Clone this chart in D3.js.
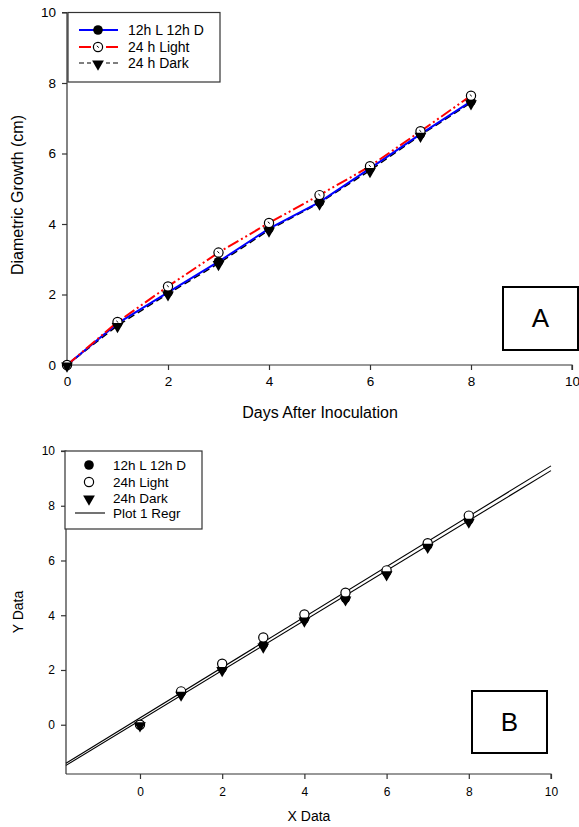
<!DOCTYPE html>
<html><head><meta charset="utf-8">
<script src="https://cdn.jsdelivr.net/npm/d3@7/dist/d3.min.js"></script>
<style>body{margin:0;background:#fff}svg{display:block}text{font-family:"Liberation Sans",Arial,sans-serif;fill:#000}</style>
</head><body><svg id="c" width="579" height="827"></svg>
<script>
const days = [0,1,2,3,4,5,6,7,8];
const s12L12D = [0,1.18,2.06,2.93,3.87,4.62,5.58,6.55,7.48];
const s24Light = [0,1.22,2.23,3.19,4.03,4.82,5.64,6.63,7.64];
const s24Dark = [0,1.12,2.02,2.88,3.83,4.60,5.52,6.52,7.44];
const xTicks = [0,2,4,6,8,10];
const yTicks = [0,2,4,6,8,10];
const names = ["12h L 12h D","24 h Light","24 h Dark"];
const namesB = ["12h L 12h D","24h Light","24h Dark","Plot 1 Regr"];

const svg = d3.select("#c");
const tri = d3.symbol().type(d3.symbolTriangle).size(60);

function triangle(g,x,y){
  g.append("path").attr("d",tri()).attr("transform",`translate(${x},${y}) rotate(180)`).attr("fill","#000");
}
function openCircle(g,x,y,mark){
  g.append("circle").attr("cx",x).attr("cy",y).attr("r",4.6).attr("fill","#fff").attr("stroke","#000").attr("stroke-width",1.2);
  if(mark) g.append("line").attr("x1",x-1.2).attr("y1",y-1.2).attr("x2",x+0.8).attr("y2",y+0.6).attr("stroke","#000").attr("stroke-width",1);
}
function fillCircle(g,x,y){
  g.append("circle").attr("cx",x).attr("cy",y).attr("r",4.8).attr("fill","#000");
}
function axes(g,x,y,opt){
  const ax = g.append("g").attr("transform",`translate(0,${y.range()[0]})`)
    .call(d3.axisBottom(x).tickValues(xTicks).tickSize(5).tickPadding(opt.xpad).tickSizeOuter(0));
  const ay = g.append("g").attr("transform",`translate(${x.range()[0]},0)`)
    .call(d3.axisLeft(y).tickValues(yTicks).tickSize(5).tickPadding(opt.ypad).tickSizeOuter(0));
  [ax,ay].forEach(a=>{
    a.select(".domain").attr("stroke","#333").attr("stroke-width",1.2);
    a.selectAll(".tick line").attr("stroke","#333").attr("stroke-width",1.2);
    a.selectAll("text").style("font-size",opt.fs+"px").attr("fill","#000").style("font-family",'"Liberation Sans",Arial,sans-serif');
  });
  // extend domain lines to cover full range
  ax.select(".domain").attr("d",`M${x.range()[0]},0H${x.range()[1]}V5`);
  ay.select(".domain").attr("d",`M0,${y.range()[0]}V${y.range()[1]}H-5`);
}

// ---------- Panel A ----------
const xA = d3.scaleLinear().domain([0,10]).range([67,572]);
const yA = d3.scaleLinear().domain([0,10]).range([365,12.5]);
const gA = svg.append("g");
axes(gA,xA,yA,{xpad:6,ypad:6,fs:13.5});
const lineA = d3.line().x((d,i)=>xA(days[i])).y(d=>yA(d));
gA.append("path").datum(s24Dark).attr("d",lineA).attr("fill","none").attr("stroke","#000").attr("stroke-width",1.5).attr("stroke-dasharray","7,4");
gA.append("path").datum(s12L12D).attr("d",lineA).attr("fill","none").attr("stroke","#0000ff").attr("stroke-width",2);
gA.append("path").datum(s24Light).attr("d",lineA).attr("fill","none").attr("stroke","#ff0000").attr("stroke-width",2).attr("stroke-dasharray","12,3,2,3,2,3");
days.forEach((d,i)=>fillCircle(gA,xA(d),yA(s12L12D[i])));
days.forEach((d,i)=>openCircle(gA,xA(d),yA(s24Light[i]),true));
days.forEach((d,i)=>triangle(gA,xA(d),yA(s24Dark[i])+1));

gA.append("text").attr("x",320).attr("y",418).attr("text-anchor","middle").style("font-size","16px").text("Days After Inoculation");
gA.append("text").attr("transform","translate(23,195) rotate(-90)").attr("text-anchor","middle").style("font-size","16px").text("Diametric Growth (cm)");

// legend A
const lgA = gA.append("g");
lgA.append("rect").attr("x",68).attr("y",12.5).attr("width",152).attr("height",69.5).attr("fill","#fff").attr("stroke","#333").attr("stroke-width",1.2);
const rowsA=[30,47,63];
lgA.append("line").attr("x1",79).attr("x2",118).attr("y1",rowsA[0]).attr("y2",rowsA[0]).attr("stroke","#0000ff").attr("stroke-width",2);
fillCircle(lgA,98,rowsA[0]);
lgA.append("line").attr("x1",79).attr("x2",118).attr("y1",rowsA[1]).attr("y2",rowsA[1]).attr("stroke","#ff0000").attr("stroke-width",2).attr("stroke-dasharray","12,15,12");
openCircle(lgA,98,rowsA[1],true);
lgA.append("line").attr("x1",79).attr("x2",118).attr("y1",rowsA[2]).attr("y2",rowsA[2]).attr("stroke","#000").attr("stroke-width",1.2).attr("stroke-dasharray","5,3,4,15,4,3");
triangle(lgA,98,rowsA[2]+1);
names.forEach((n,i)=>lgA.append("text").attr("x",128).attr("y",rowsA[i]+5).style("font-size","14px").text(n));

// box A
gA.append("rect").attr("x",503).attr("y",287).attr("width",75).attr("height",63).attr("fill","#fff").attr("stroke","#000").attr("stroke-width",2);
gA.append("text").attr("x",540.5).attr("y",327).attr("text-anchor","middle").style("font-size","26px").text("A");

// ---------- Panel B ----------
const xB = d3.scaleLinear().domain([-1.8,10]).range([66,551]);
const yB = d3.scaleLinear().domain([-1.8,10]).range([774,451]);
const gB = svg.append("g");
axes(gB,xB,yB,{xpad:8,ypad:6,fs:12});

function regr(xs,ys){
  const mx=d3.mean(xs), my=d3.mean(ys);
  const b=d3.sum(xs.map((x,i)=>(x-mx)*(ys[i]-my)))/d3.sum(xs.map(x=>(x-mx)*(x-mx)));
  return {b, a: my-b*mx};
}
[s24Light,s12L12D].forEach(s=>{
  const r=regr(days,s);
  const dom=xB.domain();
  gB.append("line").attr("x1",xB(dom[0])).attr("y1",yB(r.a+r.b*dom[0])).attr("x2",xB(dom[1])).attr("y2",yB(r.a+r.b*dom[1]))
    .attr("stroke","#000").attr("stroke-width",1.1);
});
days.forEach((d,i)=>fillCircle(gB,xB(d),yB(s12L12D[i])));
days.forEach((d,i)=>openCircle(gB,xB(d),yB(s24Light[i]),false));
days.forEach((d,i)=>triangle(gB,xB(d),yB(s24Dark[i])+1));

gB.append("text").attr("x",309).attr("y",821).attr("text-anchor","middle").style("font-size","14px").text("X Data");
gB.append("text").attr("transform","translate(23,612) rotate(-90)").attr("text-anchor","middle").style("font-size","14px").text("Y Data");

const lgB = gB.append("g");
lgB.append("rect").attr("x",65).attr("y",451).attr("width",137).attr("height",78).attr("fill","#fff").attr("stroke","#333").attr("stroke-width",1.2);
const rowsB=[465,482,498,513];
fillCircle(lgB,89,rowsB[0]);
openCircle(lgB,89,rowsB[1],false);
triangle(lgB,89,rowsB[2]+1);
lgB.append("line").attr("x1",75).attr("x2",105).attr("y1",rowsB[3]).attr("y2",rowsB[3]).attr("stroke","#000").attr("stroke-width",1.1);
namesB.forEach((n,i)=>lgB.append("text").attr("x",113).attr("y",rowsB[i]+5).style("font-size","13.5px").text(n));

gB.append("rect").attr("x",472).attr("y",691).attr("width",75).attr("height",62).attr("fill","#fff").attr("stroke","#000").attr("stroke-width",2);
gB.append("text").attr("x",509.5).attr("y",731).attr("text-anchor","middle").style("font-size","26px").text("B");
</script></body></html>
